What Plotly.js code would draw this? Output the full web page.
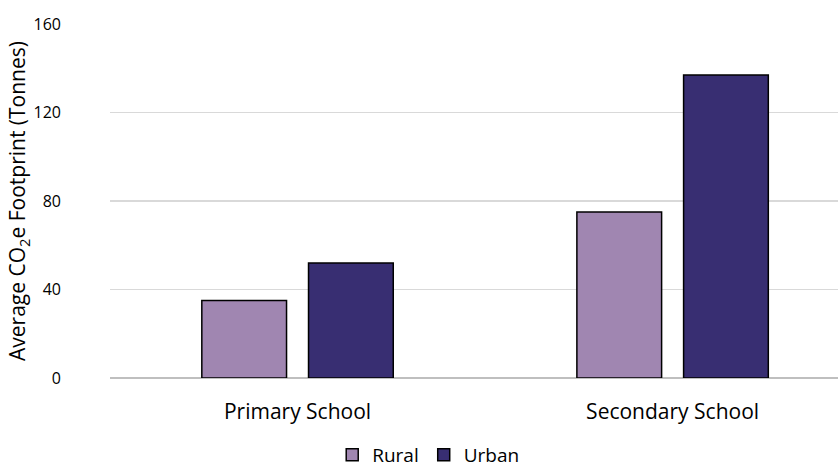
<!DOCTYPE html>
<html>
<head>
<meta charset="utf-8">
<script src="https://cdn.plot.ly/plotly-3.0.1.min.js"></script>
<style>html,body{margin:0;padding:0;background:#fff;}#chart{width:838px;height:470px;}</style>
</head>
<body>
<div id="chart"></div>
<script>
const categories = ["Primary School", "Secondary School"];
const seriesNames = ["Rural", "Urban"];
const ruralValues = [35, 75];
const urbanValues = [52, 137];
const yTicks = [0, 40, 80, 120, 160];

const colors = {Rural: "#a086b1", Urban: "#382e72"};
const fontFamily = "'Open Sans', Lato, sans-serif";

const traces = [
  {type: "bar", name: seriesNames[0], x: categories, y: ruralValues,
   marker: {color: colors.Rural, line: {color: "#000000", width: 1.5}}},
  {type: "bar", name: seriesNames[1], x: categories, y: urbanValues,
   marker: {color: colors.Urban, line: {color: "#000000", width: 1.5}}}
];

const layout = {
  width: 838, height: 470,
  margin: {l: 110, r: 0, t: 24, b: 92},
  paper_bgcolor: "#ffffff", plot_bgcolor: "#ffffff",
  font: {family: fontFamily, color: "#000000", size: 18},
  barmode: "group", bargap: 0.431, bargroupgap: 0.206,
  showlegend: true,
  legend: {orientation: "h", xref: "container", x: 0.511, xanchor: "center",
           yref: "container", y: 0.032, yanchor: "middle",
           font: {size: 19, family: fontFamily}, itemwidth: 30, traceorder: "normal"},
  xaxis: {type: "category", range: [-0.5, 1.441], showgrid: false, zeroline: false,
          showline: false, ticks: "", ticklabelstandoff: 19,
          tickfont: {size: 21, family: fontFamily}},
  yaxis: {range: [0, 160], tickvals: yTicks, ticktext: yTicks.map(String),
          showgrid: true, gridcolor: "#d9d9d9", gridwidth: 1.3,
          zeroline: true, zerolinecolor: "#bfbfbf", zerolinewidth: 1.5,
          showline: false, ticks: "", ticklabelstandoff: 48,
          tickfont: {size: 16, family: fontFamily},
          title: {text: "Average CO<sub>2</sub>e Footprint (Tonnes)", standoff: 0,
                  font: {size: 21, family: fontFamily}}}
};

Plotly.newPlot("chart", traces, layout, {displayModeBar: false, staticPlot: true});
</script>
</body>
</html>
